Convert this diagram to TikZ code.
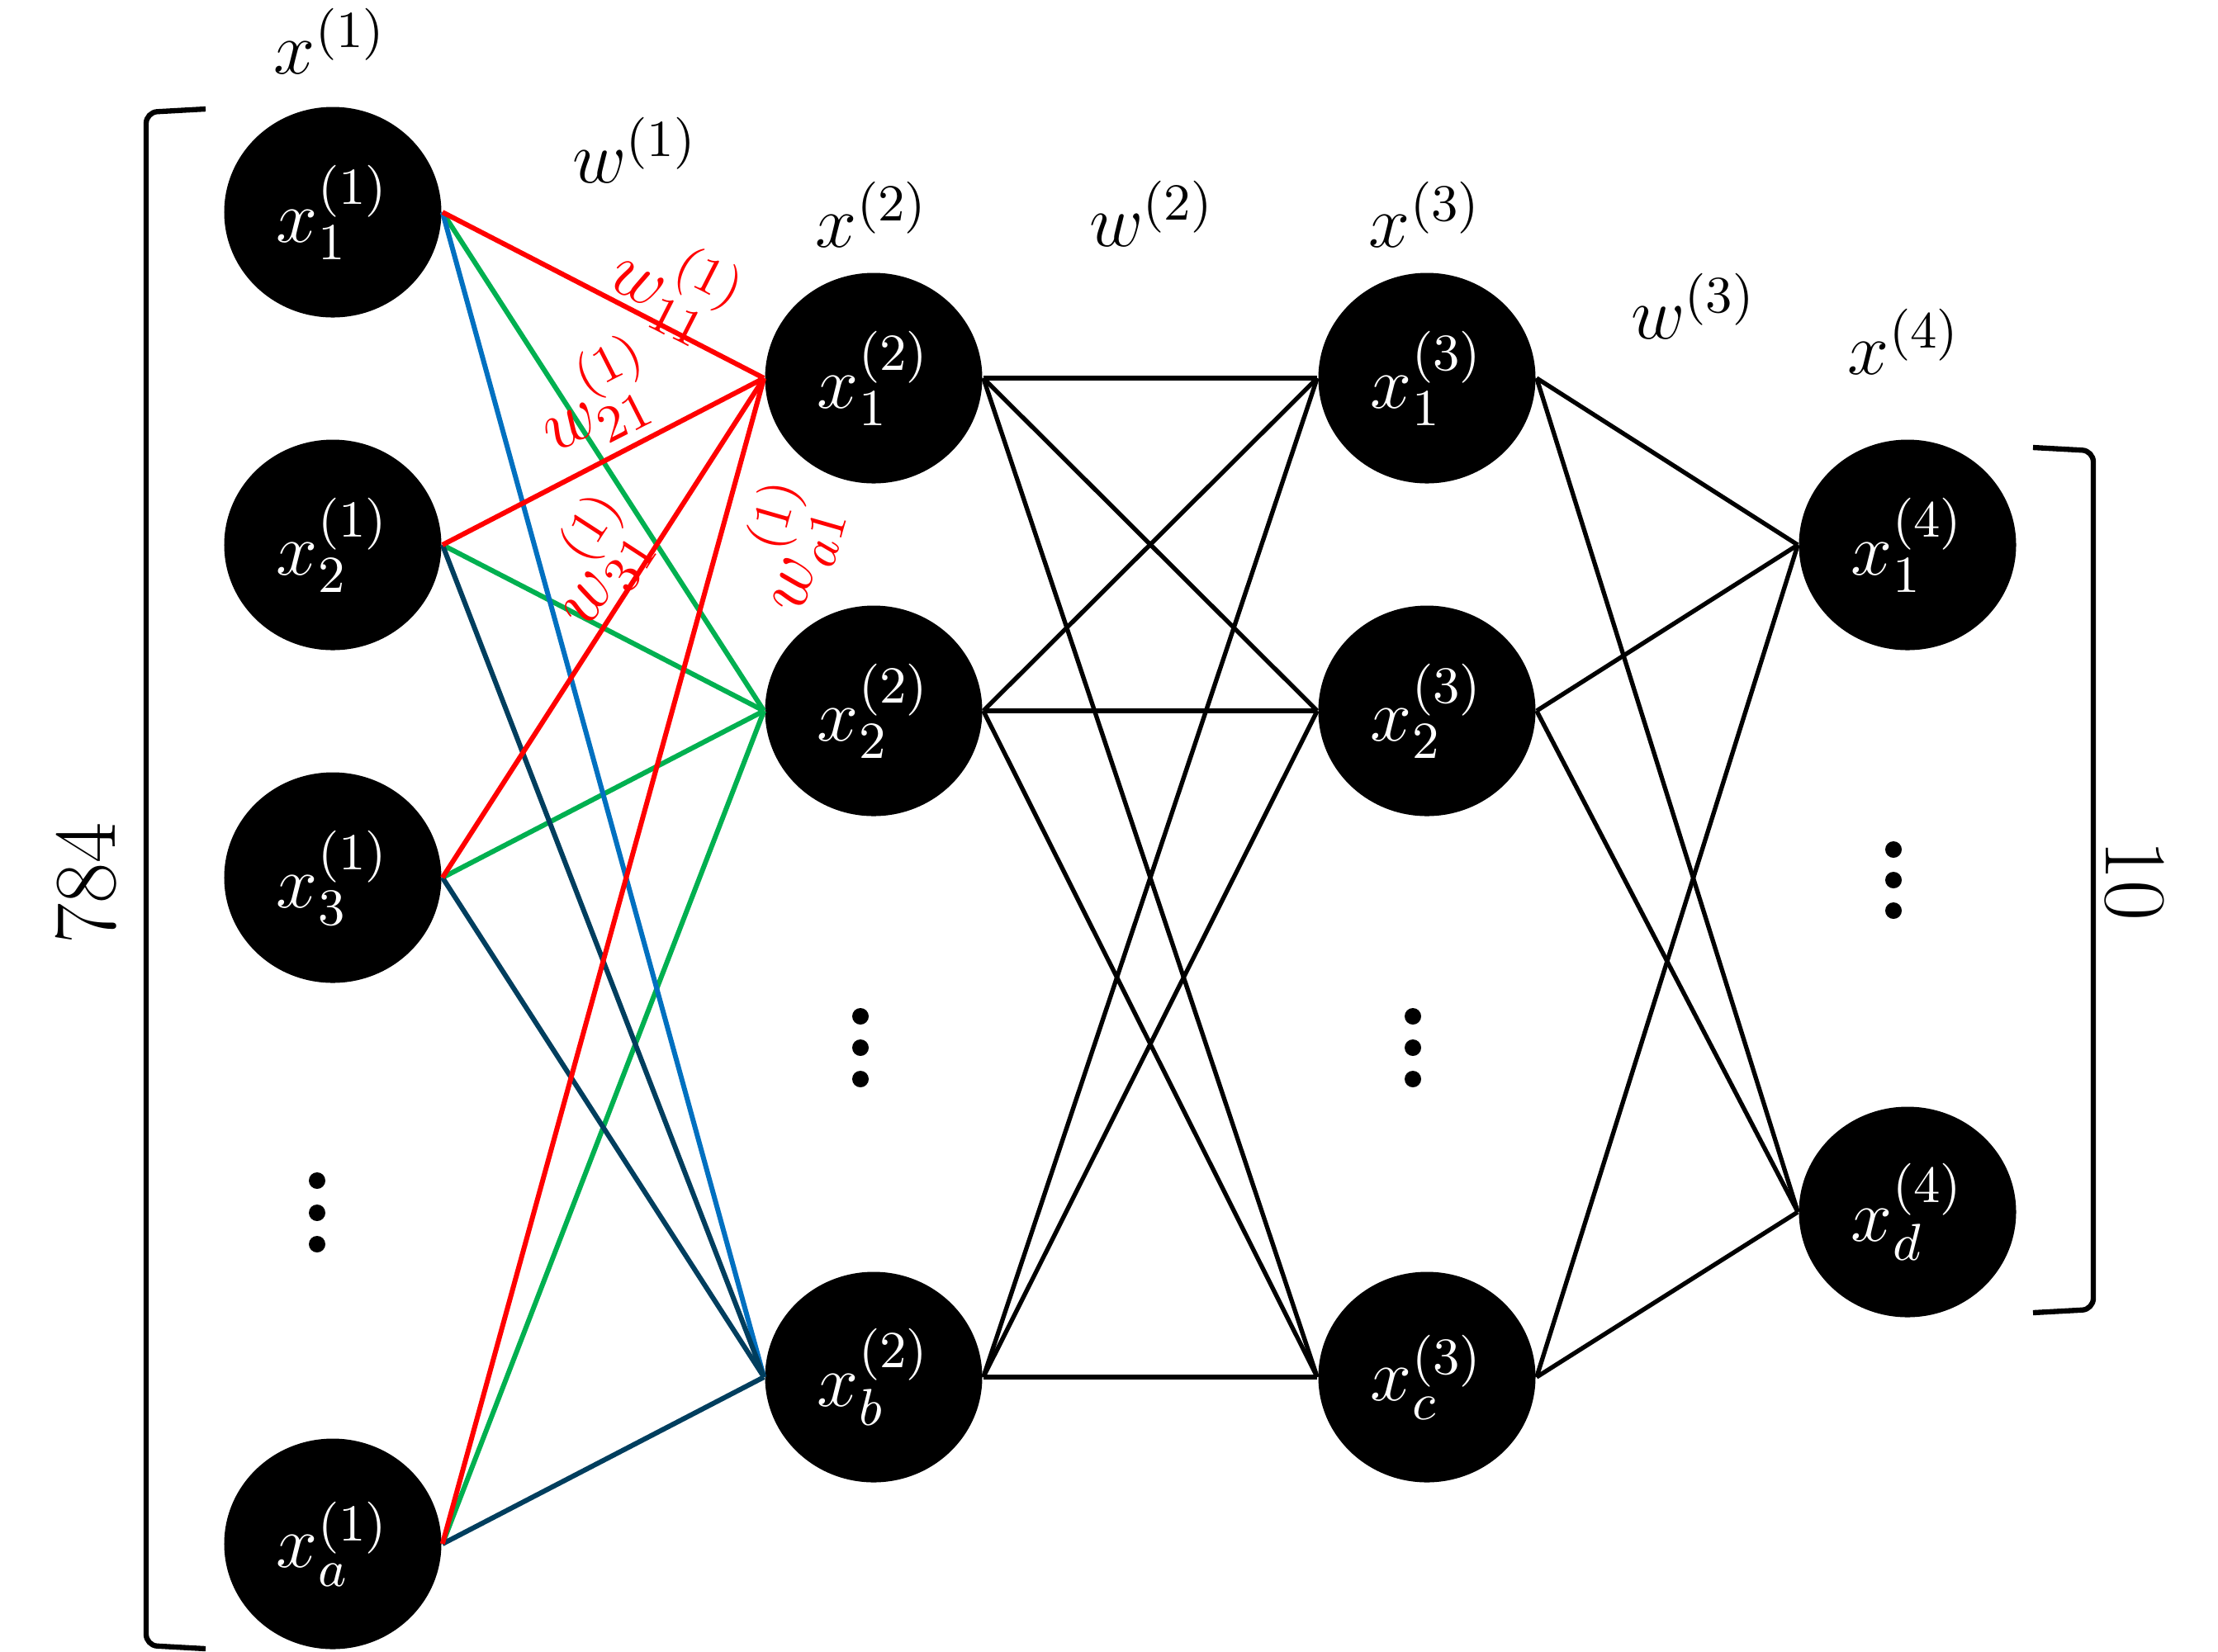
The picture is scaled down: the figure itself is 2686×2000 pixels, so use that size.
\RequirePackage{fix-cm}
\documentclass[tikz,border=0pt]{standalone}
\usetikzlibrary{shapes.geometric}
\definecolor{cred}{RGB}{255,0,0}
\definecolor{cgreen}{RGB}{0,176,80}
\definecolor{cblue}{RGB}{0,112,192}
\definecolor{cnavy}{RGB}{0,62,94}
\begin{document}
\begin{tikzpicture}[x=0.15pt,y=-0.15pt,
  neuron/.style={ellipse, fill=black, minimum width=39.45pt, minimum height=38.25pt,
    inner sep=0pt, text=white, font=\fontsize{13.5}{16}\selectfont},
  lbl/.style={inner sep=0pt, font=\fontsize{13.5}{16}\selectfont},
  wlbl/.style={inner sep=0pt, text=cred, font=\fontsize{13.5}{16}\selectfont},
  conn/.style={line width=0.8pt},
  cconn/.style={line width=0.9pt},
  brk/.style={line width=0.95pt, rounded corners=2pt},
  bignum/.style={inner sep=0pt, font=\fontsize{16}{19}\selectfont},
  dotc/.style={fill=black}]
\useasboundingbox (0,0) rectangle (2686,2000);

% layer 1
\node[neuron] (a1) at (403,257)  {$x_1^{(1)}$};
\node[neuron] (a2) at (403,660)  {$x_2^{(1)}$};
\node[neuron] (a3) at (403,1063) {$x_3^{(1)}$};
\node[neuron] (aa) at (403,1870) {$x_a^{(1)}$};
% layer 2
\node[neuron] (b1) at (1058,458)  {$x_1^{(2)}$};
\node[neuron] (b2) at (1058,861)  {$x_2^{(2)}$};
\node[neuron] (bb) at (1058,1668) {$x_b^{(2)}$};
% layer 3
\node[neuron] (c1) at (1728,458)  {$x_1^{(3)}$};
\node[neuron] (c2) at (1728,861)  {$x_2^{(3)}$};
\node[neuron] (cc) at (1728,1668) {$x_c^{(3)}$};
% layer 4
\node[neuron] (d1) at (2310,660)  {$x_1^{(4)}$};
\node[neuron] (dd) at (2310,1468) {$x_d^{(4)}$};

% dots
\foreach \yy in {1430,1469,1507} \fill[dotc] (384,\yy) circle[radius=1.5pt];
\foreach \yy in {1231,1269,1307} \fill[dotc] (1042,\yy) circle[radius=1.5pt];
\foreach \yy in {1231,1269,1307} \fill[dotc] (1711,\yy) circle[radius=1.5pt];
\foreach \yy in {1029,1066,1103} \fill[dotc] (2293,\yy) circle[radius=1.5pt];

% layer 1 -> 2
\foreach \s in {a1,a2,a3,aa} {
  \draw[cconn,cgreen] (\s.east) -- (b2.west);
}
\draw[cconn,cblue] (a1.east) -- (bb.west);
\foreach \s in {a2,a3,aa} {
  \draw[cconn,cnavy] (\s.east) -- (bb.west);
}
\foreach \s in {a1,a2,a3,aa} {
  \draw[cconn,cred] (\s.east) -- (b1.west);
}

% layer 2 -> 3
\foreach \s in {b1,b2,bb} {
  \foreach \t in {c1,c2,cc} {
    \draw[conn] (\s.east) -- (\t.west);
  }
}
% layer 3 -> 4
\foreach \s in {c1,c2,cc} {
  \foreach \t in {d1,dd} {
    \draw[conn] (\s.east) -- (\t.west);
  }
}

% layer labels
\node[lbl] (lx1) at (400,50)   {$x^{(1)}$};
\node[lbl] (lw1) at (769,182)  {$w^{(1)}$};
\node[lbl] (lx2) at (1056,260) {$x^{(2)}$};
\node[lbl] (lw2) at (1395,259) {$w^{(2)}$};
\node[lbl] (lx3) at (1726,260) {$x^{(3)}$};
\node[lbl] (lw3) at (2051,371) {$w^{(3)}$};
\node[lbl] (lx4) at (2306,414) {$x^{(4)}$};

% weight labels
\node[wlbl, rotate=-27] (w11) at (818,348) {$w_{11}^{(1)}$};
\node[wlbl, rotate=27]  (w21) at (722,482) {$w_{21}^{(1)}$};
\node[wlbl, rotate=57]  (w31) at (722,680) {$w_{31}^{(1)}$};
\node[wlbl, rotate=74]  (wa1) at (957,662) {$w_{a1}^{(1)}$};

% brackets
\draw[brk] (249,132) -- (177,136) -- (177,1993) -- (249,1997);
\draw[brk] (2462,542) -- (2535,546) -- (2535,1586) -- (2462,1590);
\node[bignum, rotate=90]  (n784) at (104,1070)  {784};
\node[bignum, rotate=-90] (n10)  at (2585,1066) {10};
\end{tikzpicture}
\end{document}
